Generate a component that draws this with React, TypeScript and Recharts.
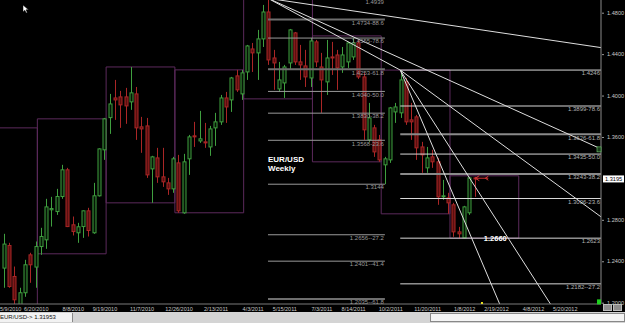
import React from "react";
import {
  ComposedChart,
  Bar,
  XAxis,
  YAxis,
  ReferenceLine,
  ReferenceArea,
  ReferenceDot,
} from "recharts";

// weekly EUR/USD candles, week 0 = 5/9/2010
const opens = [
  1.2334, 1.2552, 1.2253, 1.1905, 1.2096, 1.2462, 1.2344, 1.2542, 1.2607, 1.2897,
  1.288, 1.3025, 1.3283, 1.2752, 1.2675, 1.2735, 1.2887, 1.2675, 1.3032, 1.3476,
  1.3787, 1.3977, 1.3987, 1.3987, 1.3939, 1.4016, 1.3698, 1.3707, 1.3292, 1.3398,
  1.3215, 1.3157, 1.3099, 1.335, 1.2868, 1.3389, 1.3611, 1.3562, 1.3553, 1.3504,
  1.3688, 1.3746, 1.3977, 1.3958, 1.419, 1.4016, 1.4228, 1.445, 1.4412, 1.4547,
  1.4807, 1.4363, 1.4064, 1.4122, 1.4315, 1.4605, 1.4325, 1.4286, 1.417, 1.4518,
  1.4276, 1.4132, 1.4373, 1.4392, 1.4276, 1.4325, 1.4373, 1.4508, 1.418, 1.3572,
  1.3688, 1.3572, 1.3331, 1.3379, 1.3842, 1.3833, 1.4132, 1.3765, 1.3794, 1.3504,
  1.3302, 1.3408, 1.336, 1.3022, 1.3012, 1.2945, 1.2684, 1.2626, 1.2868, 1.3205,
];
const highs = [
  1.2665, 1.2578, 1.2349, 1.2144, 1.2414, 1.2482, 1.2591, 1.2723, 1.3003, 1.3022,
  1.3099, 1.3331, 1.3302, 1.2832, 1.2771, 1.289, 1.2916, 1.3157, 1.349, 1.3784,
  1.4016, 1.4151, 1.4045, 1.4074, 1.4276, 1.4083, 1.3794, 1.3784, 1.3418, 1.3495,
  1.3495, 1.3205, 1.3408, 1.3427, 1.3437, 1.362, 1.3746, 1.3852, 1.3736, 1.3707,
  1.3833, 1.4006, 1.4035, 1.418, 1.4248, 1.4248, 1.4489, 1.4508, 1.4634, 1.4875,
  1.4939, 1.4441, 1.4325, 1.4296, 1.4643, 1.4614, 1.4489, 1.4441, 1.4556, 1.4537,
  1.4412, 1.4537, 1.4518, 1.4441, 1.4469, 1.4518, 1.4556, 1.4537, 1.4219, 1.3929,
  1.3717, 1.362, 1.3408, 1.389, 1.3929, 1.4246, 1.417, 1.3929, 1.3813, 1.3553,
  1.3504, 1.3476, 1.3398, 1.3186, 1.3061, 1.2964, 1.2732, 1.2935, 1.3215, 1.3215,
];
const lows = [
  1.2144, 1.2144, 1.1932, 1.188, 1.2057, 1.2192, 1.2144, 1.2462, 1.252, 1.2735,
  1.2848, 1.3003, 1.273, 1.2649, 1.2578, 1.2626, 1.2639, 1.2665, 1.3025, 1.3379,
  1.363, 1.3765, 1.3688, 1.3727, 1.3862, 1.3572, 1.3447, 1.3205, 1.2964, 1.3157,
  1.3118, 1.3041, 1.3061, 1.2868, 1.2858, 1.3234, 1.3504, 1.3543, 1.3495, 1.3418,
  1.3514, 1.3717, 1.3736, 1.3842, 1.4035, 1.3958, 1.4151, 1.4228, 1.4151, 1.4469,
  1.4296, 1.4055, 1.4035, 1.3977, 1.4248, 1.4296, 1.4151, 1.4083, 1.4083, 1.4276,
  1.3833, 1.4006, 1.4199, 1.4055, 1.4219, 1.4267, 1.4344, 1.4161, 1.3572, 1.3553,
  1.3408, 1.336, 1.3144, 1.335, 1.3736, 1.3784, 1.3717, 1.3572, 1.3379, 1.3254,
  1.3254, 1.3302, 1.2945, 1.2993, 1.2858, 1.2636, 1.2623, 1.2623, 1.2848, 1.3022,
];
const closes = [
  1.2566, 1.2156, 1.2028, 1.2096, 1.2366, 1.2366, 1.2542, 1.2639, 1.2925, 1.2909,
  1.3025, 1.3283, 1.2735, 1.2687, 1.2733, 1.2887, 1.2697, 1.3032, 1.3485, 1.3775,
  1.3919, 1.3958, 1.391, 1.39, 1.4026, 1.3688, 1.3678, 1.3234, 1.3408, 1.3215,
  1.3167, 1.3099, 1.3389, 1.2887, 1.336, 1.3601, 1.3601, 1.3582, 1.3543, 1.3678,
  1.3746, 1.3977, 1.389, 1.417, 1.4055, 1.4219, 1.4479, 1.4412, 1.4547, 1.4807,
  1.4344, 1.4315, 1.4151, 1.4276, 1.4634, 1.4325, 1.4296, 1.418, 1.4527, 1.4325,
  1.4151, 1.4363, 1.4363, 1.4267, 1.4392, 1.4508, 1.4508, 1.418, 1.3669, 1.3784,
  1.3456, 1.3379, 1.3389, 1.3881, 1.389, 1.4151, 1.3746, 1.3746, 1.3495, 1.3427,
  1.3398, 1.336, 1.3022, 1.3032, 1.2964, 1.2684, 1.2665, 1.2925, 1.3205, 1.3195,
];

const tickWeeks = [0, 6, 13, 19, 26, 33, 40, 47, 53, 60, 66, 73, 80, 87, 93, 100, 106];
const tickLabels = [
  "5/9/2010", "6/20/2010", "8/8/2010", "9/19/2010", "11/7/2010", "12/26/2010",
  "2/13/2011", "4/3/2011", "5/15/2011", "7/3/2011", "8/14/2011", "10/2/2011",
  "11/20/2011", "1/8/2012", "2/19/2012", "4/8/2012", "5/20/2012",
];

const lastPrice = 1.3195;
const axisPrices = [1.48, 1.44, 1.4, 1.36, lastPrice, 1.28, 1.24, 1.2];

// retracement 1.4939 (wk 50) -> 1.3144 (wk 72)
const fibAPrices = [1.4939, 1.4734, 1.4555, 1.4253, 1.404, 1.383, 1.3568, 1.3144, 1.2656, 1.2401, 1.2035];
const fibALabels = [
  "1.4939", "1.4734-88.6", "1.4555-78.6", "1.4253-61.8", "1.4040-50.0", "1.3830-38.2",
  "1.3568-23.6", "1.3144", "1.2656--27.2", "1.2401--41.4", "1.2035--61.8",
];
// retracement 1.4246 (wk 75) -> 1.2623
const fibBPrices = [1.4246, 1.3899, 1.3626, 1.3435, 1.3243, 1.3006, 1.2623, 1.2182];
const fibBLabels = [
  "1.4246", "1.3899-78.6", "1.3626-61.8", "1.3435-50.0", "1.3243-38.2",
  "1.3006-23.6", "1.2623", "1.2182--27.2",
];

// quarterly range boxes
const boxStarts = [-6.6, 6.4, 19.4, 32.4, 45.4, 58.4, 71.4, 84.4];
const boxHighs = [1.3688, 1.3775, 1.4276, 1.4248, 1.4939, 1.4576, 1.4246, 1.3225];
const boxLows = [1.15, 1.2472, 1.2964, 1.2868, 1.3968, 1.336, 1.2858, 1.2623];

// fan / trend lines
const fanFromWeek = [50, 50, 50, 75, 75, 75];
const fanFromPrice = [1.4939, 1.4939, 1.4939, 1.4246, 1.4246, 1.4246];
const fanToWeek = [112.95, 112.95, 75, 112.95, 103.4, 93.8];
const fanToPrice = [1.4463, 1.3485, 1.4246, 1.2829, 1.1987, 1.1987];

const X_MIN = -0.66;
const X_MAX = 112.95;
const Y_MIN = 1.19874;
const Y_MAX = 1.49226;

const candles = opens.map((o, i) => ({
  week: i,
  open: o,
  high: highs[i],
  low: lows[i],
  close: closes[i],
}));

const FONT = "'Liberation Sans', Arial, sans-serif";
const PURPLE = "#5c2a5c";

const Candle = (props: any) => {
  const { x, y, width, height, payload } = props;
  if (x == null || y == null || !payload) return <g />;
  const top = Math.min(y, y + height);
  const h = Math.abs(height);
  const span = payload.high - payload.low;
  const toY = (p: number) => (span > 0 ? top + ((payload.high - p) / span) * h : top);
  const up = payload.close >= payload.open;
  const cx = Math.round(x + width / 2) + 0.5;
  const bTop = toY(Math.max(payload.open, payload.close));
  const bBot = toY(Math.min(payload.open, payload.close));
  const stroke = up ? "#3f9f3f" : "#aa2626";
  const fill = up ? "#061406" : "#5a0f0f";
  return (
    <g>
      <line x1={cx} x2={cx} y1={top} y2={top + h} stroke={stroke} strokeWidth={1} />
      <rect
        x={cx - 1.5}
        y={bTop}
        width={3}
        height={Math.max(1, bBot - bTop)}
        fill={fill}
        stroke={stroke}
        strokeWidth={1}
      />
    </g>
  );
};

const WeekTick = ({ x, y, payload }: any) => {
  const idx = tickWeeks.indexOf(payload.value);
  const first = idx === 0;
  return (
    <text
      x={first ? 0 : x + 1}
      y={y + 6.5}
      textAnchor={first ? "start" : "middle"}
      fontSize={5.5}
      fontFamily={FONT}
      fill="#c8c8c8"
    >
      {idx >= 0 ? tickLabels[idx] : ""}
    </text>
  );
};

const PriceTick = ({ x, y, payload }: any) => {
  const v = payload.value;
  if (v === lastPrice) {
    return (
      <g>
        <rect x={x + 2} y={y - 3.5} width={21} height={7} fill="#ffffff" />
        <text x={x + 4} y={y + 2.2} fontSize={5.6} fontFamily={FONT} fill="#000">
          {v.toFixed(4)}
        </text>
      </g>
    );
  }
  return (
    <g>
      <line x1={x + 1} x2={x + 3} y1={y + 0.5} y2={y + 0.5} stroke="#999" />
      <text x={x + 6} y={y + 2.2} fontSize={5.6} fontFamily={FONT} fill="#c8c8c8">
        {v.toFixed(4)}
      </text>
    </g>
  );
};

const fibLine = (
  key: string,
  price: number,
  text: string,
  from: number,
  to: number,
  color: string,
  width: number,
  labelColor: string
) => (
  <ReferenceLine
    key={key}
    segment={[
      { x: from, y: price },
      { x: to, y: price },
    ]}
    stroke={color}
    strokeWidth={width}
    ifOverflow="visible"
    label={{
      value: text,
      position: "insideTopRight",
      offset: 1,
      fill: labelColor,
      fontSize: 6,
      fontFamily: FONT,
    }}
  />
);

const NoteText = (text: string, size: number) => (props: any) =>
  (
    <text x={props.cx} y={props.cy} fontSize={size} fontWeight="bold" fontFamily={FONT} fill="#ffffff">
      {text}
    </text>
  );

const Arrow = (props: any) => {
  const { cx, cy } = props;
  return (
    <path
      d={`M${cx + 1},${cy} L${cx + 14},${cy} M${cx + 1},${cy} L${cx + 5},${cy - 2.5} M${cx + 1},${cy} L${cx + 5},${cy + 2.5} M${cx + 11},${cy} L${cx + 14},${cy - 2} M${cx + 11},${cy} L${cx + 14},${cy + 2}`}
      stroke="#d03434"
      strokeWidth={1}
      fill="none"
    />
  );
};

const GreenMark = (props: any) => (
  <rect x={props.cx - 4} y={props.cy - 3} width={4} height={5} fill="#1fd01f" />
);

const TagMark = (props: any) => (
  <g>
    <rect x={props.cx - 4} y={props.cy - 2} width={4} height={5} fill="#1a3a1a" stroke="#6fd06f" strokeWidth={0.6} />
  </g>
);

const YellowMark = (props: any) => (
  <rect x={props.cx - 1} y={props.cy - 2} width={2} height={2} fill="#e8e020" />
);

export default function App() {
  return (
    <div style={{ position: "fixed", left: 0, top: 0, width: 625, height: 323, background: "#000" }}>
      <ComposedChart
        width={625}
        height={312}
        data={candles}
        margin={{ top: 0, right: 0, left: 0, bottom: 0 }}
      >
        <XAxis
          dataKey="week"
          type="number"
          domain={[X_MIN, X_MAX]}
          allowDataOverflow
          ticks={tickWeeks}
          interval={0}
          height={8}
          tickSize={0}
          tickMargin={0}
          tickLine={false}
          axisLine={{ stroke: "#7a7a7a" }}
          tick={<WeekTick />}
        />
        <YAxis
          orientation="right"
          type="number"
          domain={[Y_MIN, Y_MAX]}
          allowDataOverflow
          ticks={axisPrices}
          interval={0}
          width={24}
          tickSize={0}
          tickMargin={0}
          tickLine={false}
          axisLine={{ stroke: "#8a8a8a" }}
          tick={<PriceTick />}
        />

        {boxStarts.map((s, i) => (
          <ReferenceArea
            key={`box${i}`}
            x1={s}
            x2={s + 13}
            y1={boxLows[i]}
            y2={boxHighs[i]}
            fill="none"
            stroke={PURPLE}
            strokeWidth={1}
            ifOverflow="hidden"
          />
        ))}

        {fibAPrices.map((p, i) =>
          fibLine(
            `fa${i}`,
            p,
            fibALabels[i],
            50,
            72.1,
            fibALabels[i].endsWith("88.6") || fibALabels[i].endsWith("61.8") ? "#6e6e6e" : "#9a9a9a",
            fibALabels[i].endsWith("88.6") || fibALabels[i].endsWith("61.8") ? 2 : 1,
            "#9a9a9a"
          )
        )}
        {fibBPrices.map((p, i) =>
          fibLine(
            `fb${i}`,
            p,
            fibBLabels[i],
            75,
            X_MAX,
            fibBLabels[i].endsWith("61.8") || fibBLabels[i].endsWith("38.2") ? "#8a8a8a" : "#d8d8d8",
            fibBLabels[i].endsWith("61.8") || fibBLabels[i].endsWith("38.2") ? 2 : 1,
            "#b4b4b4"
          )
        )}

        {fanFromWeek.map((w, i) => (
          <ReferenceLine
            key={`fan${i}`}
            segment={[
              { x: w, y: fanFromPrice[i] },
              { x: fanToWeek[i], y: fanToPrice[i] },
            ]}
            stroke="#dedede"
            strokeWidth={1}
            ifOverflow="visible"
          />
        ))}

        <Bar
          dataKey={(d: any) => [d.low, d.high]}
          barSize={4}
          shape={(p: any) => <Candle {...p} />}
          isAnimationActive={false}
        />

        <ReferenceDot x={50} y={1.3358} r={0} ifOverflow="visible" shape={NoteText("EUR/USD", 8)} />
        <ReferenceDot x={50} y={1.3272} r={0} ifOverflow="visible" shape={NoteText("Weekly", 8)} />
        <ReferenceDot x={90.8} y={1.2596} r={0} ifOverflow="visible" shape={NoteText("1.2660", 7.5)} />
        <ReferenceDot x={89} y={1.3202} r={0} ifOverflow="visible" shape={Arrow} />
        <ReferenceDot x={X_MAX} y={1.2003} r={0} ifOverflow="visible" shape={GreenMark} />
        <ReferenceDot x={X_MAX} y={1.3485} r={0} ifOverflow="visible" shape={TagMark} />
        <ReferenceDot x={90.45} y={Y_MIN} r={0} ifOverflow="visible" shape={YellowMark} />
      </ComposedChart>

      <svg style={{ position: "absolute", left: 22, top: 4 }} width={8} height={10}>
        <path d="M1,1 L1,8 L2.8,6.3 L4.2,9 L5.3,8.5 L4,5.8 L6.5,5.8 Z" fill="#fff" stroke="#000" strokeWidth={0.5} />
      </svg>
      <div style={{ position: "absolute", left: 603, top: 304, width: 9, height: 7, background: "#8c8c8c", border: "1px solid #bbb", boxSizing: "border-box" }} />
      <div style={{ position: "absolute", left: 613, top: 304, width: 9, height: 7, background: "#8c8c8c", border: "1px solid #bbb", boxSizing: "border-box" }} />

      <div
        style={{
          position: "absolute",
          left: 0,
          top: 312,
          width: 625,
          height: 11,
          background: "#d4d4d4",
          fontFamily: FONT,
          fontSize: 6,
          color: "#111",
        }}
      >
        <div
          style={{
            position: "absolute",
            left: 0,
            top: 1,
            width: 72,
            height: 9,
            background: "#f2f2f2",
            borderRight: "1px solid #888",
            lineHeight: "9px",
          }}
        >
          EUR/USD-&gt; 1.31953
        </div>
        <div
          style={{
            position: "absolute",
            left: 430,
            top: 1,
            width: 195,
            height: 9,
            background: "#f4f4f4",
            border: "1px solid #888",
            boxSizing: "border-box",
          }}
        />
      </div>
    </div>
  );
}
